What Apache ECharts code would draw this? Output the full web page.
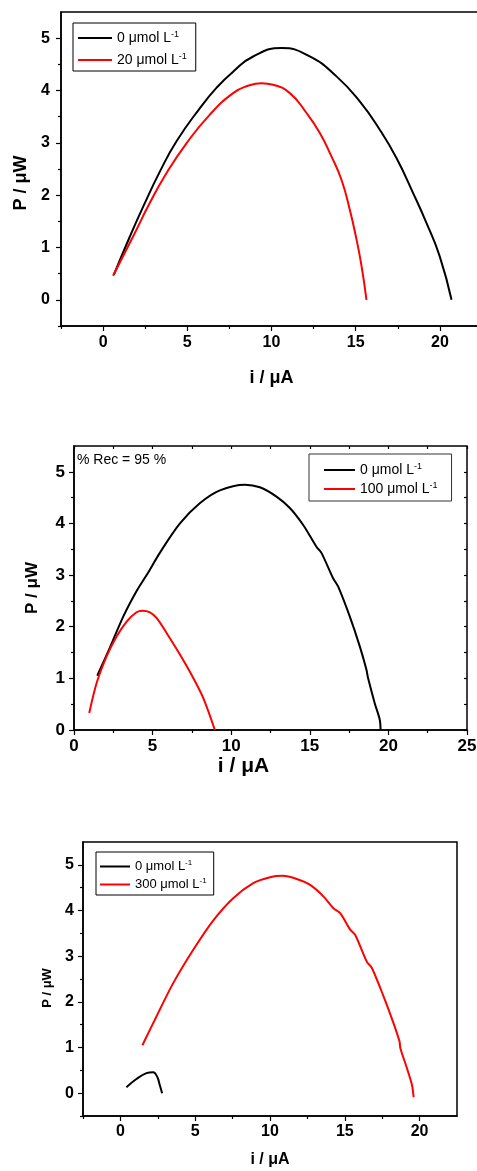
<!DOCTYPE html>
<html><head><meta charset="utf-8">
<script src="https://cdn.jsdelivr.net/npm/echarts@6/dist/echarts.min.js"></script>
<style>html,body{margin:0;padding:0;background:#fff}#c{width:477px;height:1171px}</style>
</head><body><div id="c"></div>
<script>
// ---------- DATA ----------
const N0 = '0 μmol L-1';
const N20 = '20 μmol L-1';
const N100 = '100 μmol L-1';
const N300 = '300 μmol L-1';
const REC_TEXT = '% Rec = 95 %';
const X_NAME = 'i / μA';
const Y_NAME = 'P / μW';

// Panel 1
const P1_BLACK_X = [0.64, 1.59, 2.38, 3.37, 4.36, 5.74, 6.73, 7.72, 8.91, 10.6, 12.27, 13.86, 15.24, 16.43, 17.42, 18.41, 19.2, 19.99, 20.69];
const P1_BLACK_Y = [0.48, 1.21, 1.78, 2.45, 3.03, 3.66, 4.05, 4.36, 4.65, 4.81, 4.65, 4.27, 3.79, 3.25, 2.71, 2.04, 1.47, 0.83, 0.0];
const P1_RED_X = [0.59, 1.78, 2.77, 3.76, 4.95, 6.34, 7.72, 8.6, 9.4, 10.1, 11.09, 12.08, 12.87, 13.56, 14.16, 14.65, 15.05, 15.35, 15.64];
const P1_RED_Y = [0.46, 1.21, 1.85, 2.42, 2.99, 3.54, 3.95, 4.09, 4.14, 4.11, 3.95, 3.57, 3.19, 2.74, 2.29, 1.72, 1.15, 0.64, 0.0];
// Panel 2
const P2_BLACK_X = [1.48, 2.29, 3.14, 4.0, 4.62, 5.5, 6.74, 8.0, 9.28, 10.87, 11.82, 12.88, 13.73, 14.58, 15.42, 15.74, 16.48, 16.8, 17.54, 18.18, 18.6, 18.71, 19.13, 19.45, 19.5];
const P2_BLACK_Y = [1.05, 1.6, 2.2, 2.7, 3.0, 3.45, 4.0, 4.39, 4.64, 4.75, 4.70, 4.52, 4.30, 3.97, 3.55, 3.43, 2.94, 2.78, 2.2, 1.62, 1.17, 1.0, 0.52, 0.2, 0.0];
const P2_RED_X = [0.97, 1.44, 2.08, 2.71, 3.35, 3.98, 4.36, 4.83, 5.25, 5.89, 6.74, 7.58, 8.22, 8.96];
const P2_RED_Y = [0.33, 0.91, 1.43, 1.81, 2.10, 2.28, 2.31, 2.28, 2.17, 1.88, 1.46, 1.01, 0.62, 0.0];
// Panel 3
const P3_BLACK_X = [0.4, 1.07, 1.74, 2.19, 2.46, 2.63, 2.79];
const P3_BLACK_Y = [0.13, 0.31, 0.44, 0.46, 0.36, 0.18, 0.0];
const P3_RED_X = [1.47, 2.41, 3.53, 4.87, 6.2, 7.54, 8.88, 10.0, 10.85, 11.79, 12.68, 13.57, 14.24, 14.69, 15.36, 15.69, 16.47, 16.81, 17.59, 18.26, 18.66, 18.71, 19.15, 19.49, 19.6];
const P3_RED_Y = [1.05, 1.68, 2.41, 3.14, 3.78, 4.27, 4.6, 4.73, 4.76, 4.69, 4.56, 4.31, 4.05, 3.94, 3.58, 3.47, 2.88, 2.74, 2.12, 1.53, 1.13, 0.99, 0.55, 0.18, -0.09];

// Tick labels
const P1_X_TICKS = [0, 5, 10, 15, 20];
const P1_X_MINOR = [-2.5, 2.5, 7.5, 12.5, 17.5];
const P1_Y_TICKS = [0, 1, 2, 3, 4, 5];
const P1_Y_MINOR = [-0.5, 0.5, 1.5, 2.5, 3.5, 4.5];
const P2_X_TICKS = [0, 5, 10, 15, 20, 25];
const P2_X_MINOR = [2.5, 7.5, 12.5, 17.5, 22.5];
const P2_Y_TICKS = [0, 1, 2, 3, 4, 5];
const P2_Y_MINOR = [0.5, 1.5, 2.5, 3.5, 4.5];
const P3_X_TICKS = [0, 5, 10, 15, 20];
const P3_X_MINOR = [-2.5, 2.5, 7.5, 12.5, 17.5];
const P3_Y_TICKS = [0, 1, 2, 3, 4, 5];
const P3_Y_MINOR = [-0.5, 0.5, 1.5, 2.5, 3.5, 4.5];

// ---------- STYLE / BUILD ----------
const FONT = '"Liberation Sans", Arial, Helvetica, sans-serif';
const zip = (xs, ys) => xs.map((x, i) => [x, ys[i]]);

function gridBox(left, top, width, height) {
  return { left, top, width, height, show: true, borderColor: '#000', borderWidth: 1.5,
           backgroundColor: 'transparent', outerBoundsMode: 'none', containLabel: false };
}

function mainAxis(dim, gi, min, max, ticks, fs, margin, name, nameFs, nameGap, namePad) {
  return {
    type: 'value', gridIndex: gi, position: dim === 'x' ? 'bottom' : 'left', min, max,
    axisLine: { show: true, onZero: false, lineStyle: { color: '#000', width: 1.5 } },
    axisTick: { show: true, customValues: ticks, length: 5, lineStyle: { color: '#000', width: 1.2 } },
    axisLabel: { show: true, customValues: ticks, margin, color: '#000', fontFamily: FONT, fontWeight: 'bold', fontSize: fs },
    splitLine: { show: false },
    name, nameLocation: 'middle', nameGap,
    nameTextStyle: { color: '#000', fontFamily: FONT, fontWeight: 'bold', fontSize: nameFs, padding: namePad }
  };
}

function tickAxis(dim, gi, min, max, vals, pos, inside, len) {
  return {
    type: 'value', gridIndex: gi, position: pos, min, max,
    axisLine: { show: false, onZero: false },
    axisTick: { show: true, inside, customValues: vals, length: len, lineStyle: { color: '#000', width: 1.2 } },
    axisLabel: { show: false },
    splitLine: { show: false }
  };
}

const xAxes = [
  mainAxis('x', 0, -2.5, 22.5, P1_X_TICKS, 16, 9, X_NAME, 18, 43, [0, 0, 0, 0]),
  tickAxis('x', 0, -2.5, 22.5, P1_X_MINOR, 'bottom', false, 3),
  mainAxis('x', 1, 0, 25, P2_X_TICKS, 17, 8, X_NAME, 21, 25, [0, 54, 0, 0]),
  tickAxis('x', 1, 0, 25, P2_X_MINOR, 'bottom', false, 3),
  tickAxis('x', 1, 0, 25, P2_X_TICKS.concat(P2_X_MINOR), 'top', true, 3),
  mainAxis('x', 2, -2.5, 22.5, P3_X_TICKS, 16, 8, X_NAME, 16, 36, [0, 0, 0, 0]),
  tickAxis('x', 2, -2.5, 22.5, P3_X_MINOR, 'bottom', false, 3)
];
const yAxes = [
  mainAxis('y', 0, -0.5, 5.5, P1_Y_TICKS, 16, 11, Y_NAME, 18, 27, [0, 28, 0, 0]),
  tickAxis('y', 0, -0.5, 5.5, P1_Y_MINOR, 'left', false, 3),
  mainAxis('y', 1, 0, 5.5, P2_Y_TICKS, 17, 9, Y_NAME, 17, 33, [0, 0, 0, 0]),
  tickAxis('y', 1, 0, 5.5, P2_Y_MINOR, 'left', false, 3),
  tickAxis('y', 1, 0, 5.5, P2_Y_TICKS.concat(P2_Y_MINOR), 'right', true, 3),
  mainAxis('y', 2, -0.5, 5.5, P3_Y_TICKS, 16, 9, Y_NAME, 13, 25, [0, 18, 0, 0]),
  tickAxis('y', 2, -0.5, 5.5, P3_Y_MINOR, 'left', false, 3)
];

function line(name, color, xi, yi, xs, ys, smooth) {
  return { type: 'line', name, xAxisIndex: xi, yAxisIndex: yi, data: zip(xs, ys),
           showSymbol: false, symbol: 'none', smooth, color,
           lineStyle: { color, width: 2 }, itemStyle: { color }, animation: false };
}

function legendFmt(name) {
  return '{t|' + name.replace(/-1$/, '') + '}{s|-1}';
}
function legend(names, left, top, padding, gap, iw, fs, lh, borderColor) {
  return {
    data: names, orient: 'vertical', left, top, padding, itemGap: gap,
    itemWidth: iw, itemHeight: 2, icon: 'rect', selectedMode: false,
    borderColor, borderWidth: 1, backgroundColor: '#fff',
    formatter: legendFmt,
    textStyle: {
      color: '#000', fontFamily: FONT, fontSize: fs,
      rich: {
        t: { fontSize: fs, lineHeight: lh, fontFamily: FONT, color: '#000' },
        s: { fontSize: Math.round(fs * 0.62), lineHeight: 9, verticalAlign: 'top', fontFamily: FONT, color: '#000' }
      }
    }
  };
}

const option = {
  backgroundColor: '#fff',
  animation: false,
  title: { text: REC_TEXT, left: 77, top: 453, padding: 0,
           textStyle: { fontSize: 14, fontWeight: 'normal', fontFamily: FONT, color: '#000' } },
  grid: [gridBox(61, 12, 421, 314), gridBox(74, 446, 393, 284), gridBox(83, 842, 374, 274)],
  xAxis: xAxes,
  yAxis: yAxes,
  legend: [
    legend([N0, N20], 73, 23, [7, 9, 4, 5], 7, 34, 14, 16, '#000'),
    legend([N0, N100], 309, 454, [8, 14, 5, 15], 4, 31, 14, 16, '#333'),
    legend([N0, N300], 96, 852, [7, 7, 4, 4], 4, 30, 13, 15, '#000')
  ],
  series: [
    line(N0, '#000', 0, 0, P1_BLACK_X, P1_BLACK_Y, 0.5),
    line(N20, '#ff0000', 0, 0, P1_RED_X, P1_RED_Y, 0.5),
    line(N0, '#000', 2, 2, P2_BLACK_X, P2_BLACK_Y, 0.3),
    line(N100, '#ff0000', 2, 2, P2_RED_X, P2_RED_Y, 0.3),
    line(N0, '#000', 5, 5, P3_BLACK_X, P3_BLACK_Y, 0.4),
    line(N300, '#ff0000', 5, 5, P3_RED_X, P3_RED_Y, 0.3)
  ]
};

const chart = echarts.init(document.getElementById('c'), null, { renderer: 'canvas' });
chart.setOption(option);
</script></body></html>
